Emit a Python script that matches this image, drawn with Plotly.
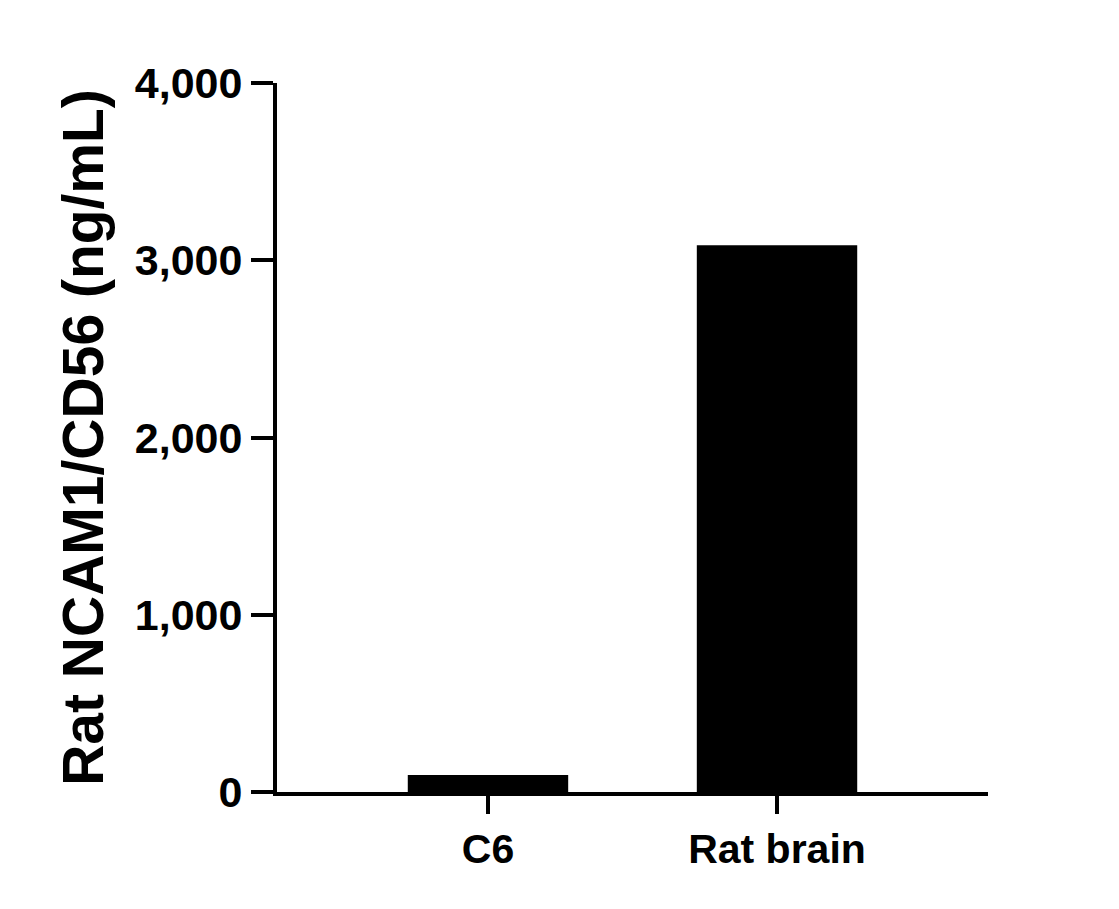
import plotly.graph_objects as go

categories = ["C6", "Rat brain"]
values = [96, 3085]
y_ticks = [0, 1000, 2000, 3000, 4000]
y_tick_labels = ["0", "1,000", "2,000", "3,000", "4,000"]

fig = go.Figure()
fig.add_trace(go.Bar(x=[0, 1], y=values, width=0.555,
                     marker=dict(color="black", line=dict(width=0))))

fig.update_layout(
    width=1119, height=909,
    plot_bgcolor="white", paper_bgcolor="white",
    margin=dict(l=269, r=139, t=75, b=125),
    font=dict(family="Liberation Sans, Arial", color="black"),
    showlegend=False,
)
fig.update_xaxes(
    range=[-0.73, 1.73], tickvals=[0, 1],
    ticktext=["<b>%s</b>" % c for c in categories],
    showline=True, linecolor="black", linewidth=4,
    ticks="outside", ticklen=18, tickwidth=4, tickcolor="black",
    tickfont=dict(size=41),
    showgrid=False, zeroline=False,
)
fig.update_yaxes(
    range=[0, 4000], tickvals=y_ticks,
    ticktext=["<b>%s</b>" % t for t in y_tick_labels],
    showline=True, linecolor="black", linewidth=4,
    ticks="outside", ticklen=22, tickwidth=4, tickcolor="black",
    tickfont=dict(size=43), showgrid=False, zeroline=False,
    title=dict(text="<b>Rat NCAM1/CD56 (ng/mL)</b>", font=dict(size=57), standoff=14),
)

fig.write_html("out.html")
